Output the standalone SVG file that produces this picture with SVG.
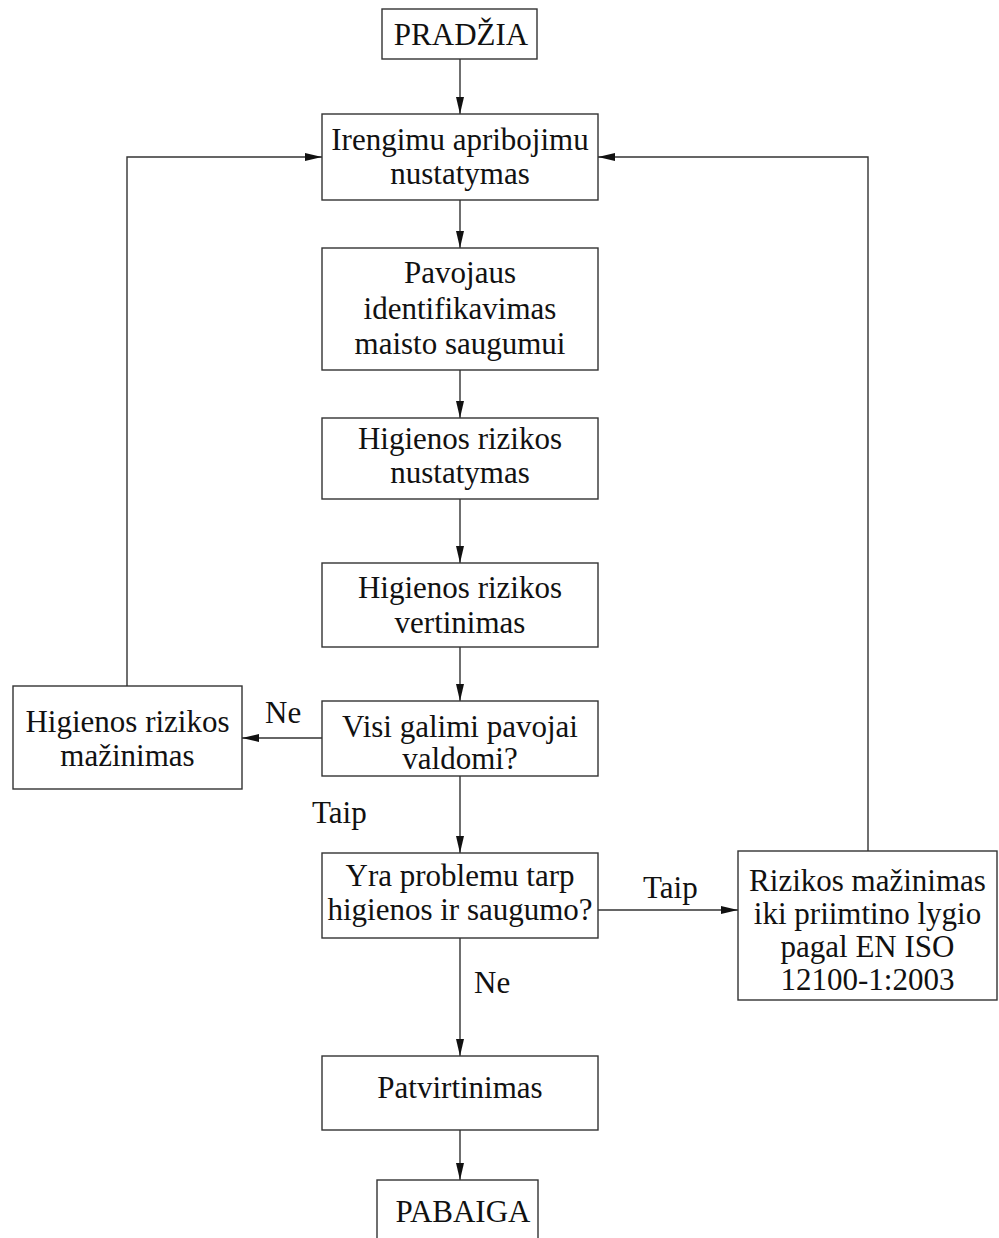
<svg xmlns="http://www.w3.org/2000/svg" width="999" height="1238" viewBox="0 0 999 1238">
<style>
.box{fill:#fff;stroke:#333;stroke-width:1.4}
.t{font-family:"Liberation Serif","Times New Roman",serif;font-size:31px;fill:#111;text-anchor:middle}
.l{font-family:"Liberation Serif","Times New Roman",serif;font-size:31px;fill:#111}
.c{fill:none;stroke:#333;stroke-width:1.4}
</style>
<defs>
<marker id="ah" markerUnits="userSpaceOnUse" markerWidth="18" markerHeight="10" refX="17" refY="4" orient="auto">
<path d="M0,0 L17,4 L0,8 z" fill="#111"/>
</marker>
</defs>
<g id="connectors">
<path class="c" d="M460,59 V114" marker-end="url(#ah)"/>
<path class="c" d="M460,200 V248" marker-end="url(#ah)"/>
<path class="c" d="M460,370 V418" marker-end="url(#ah)"/>
<path class="c" d="M460,499 V563" marker-end="url(#ah)"/>
<path class="c" d="M460,647 V701" marker-end="url(#ah)"/>
<path class="c" d="M460,776 V853" marker-end="url(#ah)"/>
<path class="c" d="M460,938 V1056" marker-end="url(#ah)"/>
<path class="c" d="M460,1130 V1180" marker-end="url(#ah)"/>
<path class="c" d="M322,738 H242" marker-end="url(#ah)"/>
<path class="c" d="M127,686 V157 H322" marker-end="url(#ah)"/>
<path class="c" d="M598,910 H738" marker-end="url(#ah)"/>
<path class="c" d="M868,851 V157 H598" marker-end="url(#ah)"/>
<text class="l" x="265" y="723">Ne</text>
<text class="l" x="312" y="823">Taip</text>
<text class="l" x="643" y="898">Taip</text>
<text class="l" x="474" y="993">Ne</text>
</g>
<g id="start">
<rect class="box" x="382" y="9" width="155" height="50"/>
<text class="t" x="461" y="45">PRADŽIA</text>
</g>
<g id="n1">
<rect class="box" x="322" y="114" width="276" height="86"/>
<text class="t" x="460" y="150">Irengimu apribojimu</text>
<text class="t" x="460" y="184">nustatymas</text>
</g>
<g id="n2">
<rect class="box" x="322" y="248" width="276" height="122"/>
<text class="t" x="460" y="283">Pavojaus</text>
<text class="t" x="460" y="319">identifikavimas</text>
<text class="t" x="460" y="354">maisto saugumui</text>
</g>
<g id="n3">
<rect class="box" x="322" y="418" width="276" height="81"/>
<text class="t" x="460" y="449">Higienos rizikos</text>
<text class="t" x="460" y="483">nustatymas</text>
</g>
<g id="n4">
<rect class="box" x="322" y="563" width="276" height="84"/>
<text class="t" x="460" y="598">Higienos rizikos</text>
<text class="t" x="460" y="633">vertinimas</text>
</g>
<g id="d1">
<rect class="box" x="322" y="701" width="276" height="75"/>
<text class="t" x="460" y="737">Visi galimi pavojai</text>
<text class="t" x="460" y="769">valdomi?</text>
</g>
<g id="left">
<rect class="box" x="13" y="686" width="229" height="103"/>
<text class="t" x="127.5" y="732">Higienos rizikos</text>
<text class="t" x="127.5" y="766">mažinimas</text>
</g>
<g id="d2">
<rect class="box" x="322" y="853" width="276" height="85"/>
<text class="t" x="460" y="886">Yra problemu tarp</text>
<text class="t" x="460" y="920">higienos ir saugumo?</text>
</g>
<g id="right">
<rect class="box" x="738" y="851" width="259" height="149"/>
<text class="t" x="867.5" y="891">Rizikos mažinimas</text>
<text class="t" x="867.5" y="924">iki priimtino lygio</text>
<text class="t" x="867.5" y="957">pagal EN ISO</text>
<text class="t" x="867.5" y="990">12100-1:2003</text>
</g>
<g id="n5">
<rect class="box" x="322" y="1056" width="276" height="74"/>
<text class="t" x="460" y="1098">Patvirtinimas</text>
</g>
<g id="end">
<rect class="box" x="377" y="1180" width="161" height="70"/>
<text class="t" x="463" y="1222">PABAIGA</text>
</g>
</svg>
